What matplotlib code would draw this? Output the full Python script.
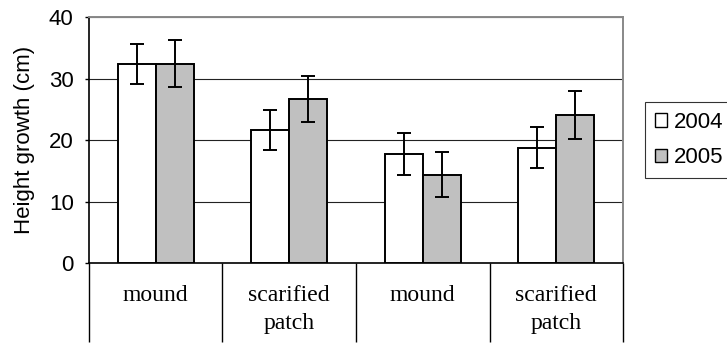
import matplotlib
matplotlib.use('Agg')
from matplotlib import pyplot
from matplotlib.patches import Patch
import numpy

# Height growth by site preparation, two measurement years
categories = ['mound', 'scarified\npatch', 'mound', 'scarified\npatch']
growth_2004 = [32.4, 21.7, 17.7, 18.8]
growth_2005 = [32.5, 26.7, 14.4, 24.1]
err_2004 = [3.2, 3.3, 3.4, 3.4]
err_2005 = [3.9, 3.8, 3.7, 3.9]
years = ['2004', '2005']

sans = 'Liberation Sans'
serif = 'Liberation Serif'

fig = pyplot.figure(figsize=(7.27, 3.45), dpi=100)
ax = fig.add_axes([0.1224, 0.2377, 0.7346, 0.7116])

x = numpy.arange(len(categories))
width = 0.285
bar_kw = dict(edgecolor='black', linewidth=1.4, zorder=3)
err_kw = dict(ecolor='black', elinewidth=1.4, capthick=1.4, capsize=5.3,
              zorder=4)
ax.bar(x - width / 2, growth_2004, width, color='white',
       yerr=err_2004, error_kw=err_kw, **bar_kw)
ax.bar(x + width / 2, growth_2005, width, color='#c0c0c0',
       yerr=err_2005, error_kw=err_kw, **bar_kw)

ax.set_xlim(-0.5, len(categories) - 0.5)
ax.set_ylim(0, 40)
ax.set_yticks([0, 10, 20, 30, 40])
ax.yaxis.grid(True, color='#222222', linewidth=0.8, zorder=0)
ax.set_axisbelow(True)

for side in ['top', 'right']:
  ax.spines[side].set_color('#888888')
  ax.spines[side].set_linewidth(1.4)
ax.spines['left'].set_linewidth(1.2)
ax.spines['bottom'].set_linewidth(1.2)

# category labels with long separators between groups
ax.set_xticks(x)
ax.set_xticklabels(categories, fontfamily=serif, fontsize=17,
                   linespacing=1.45, va='top')
ax.tick_params(axis='x', which='major', length=0, pad=16)
ax.set_xticks(numpy.arange(-0.5, len(categories), 1.0), minor=True)
ax.tick_params(axis='x', which='minor', length=57, width=1.0,
               color='black')
ax.tick_params(axis='y', length=3, width=1.0, pad=8)
for label in ax.get_yticklabels():
  label.set_fontfamily(sans)
  label.set_fontsize(16)

ax.set_ylabel('Height growth (cm)', fontfamily=sans, fontsize=16,
              labelpad=10)

handles = [Patch(facecolor='white', edgecolor='black', linewidth=1.0),
           Patch(facecolor='#c0c0c0', edgecolor='black', linewidth=1.0)]
leg = fig.legend(handles, years, loc='center left',
                 bbox_to_anchor=(645 / 727, 1 - 140 / 345),
                 prop={'family': sans, 'size': 16},
                 handlelength=0.55, handleheight=0.55, handletextpad=0.3,
                 borderpad=0.45, labelspacing=0.65, fancybox=False,
                 borderaxespad=0.0)
leg.get_frame().set_edgecolor('black')
leg.get_frame().set_linewidth(0.8)

fig.savefig('out.png', dpi=100)
